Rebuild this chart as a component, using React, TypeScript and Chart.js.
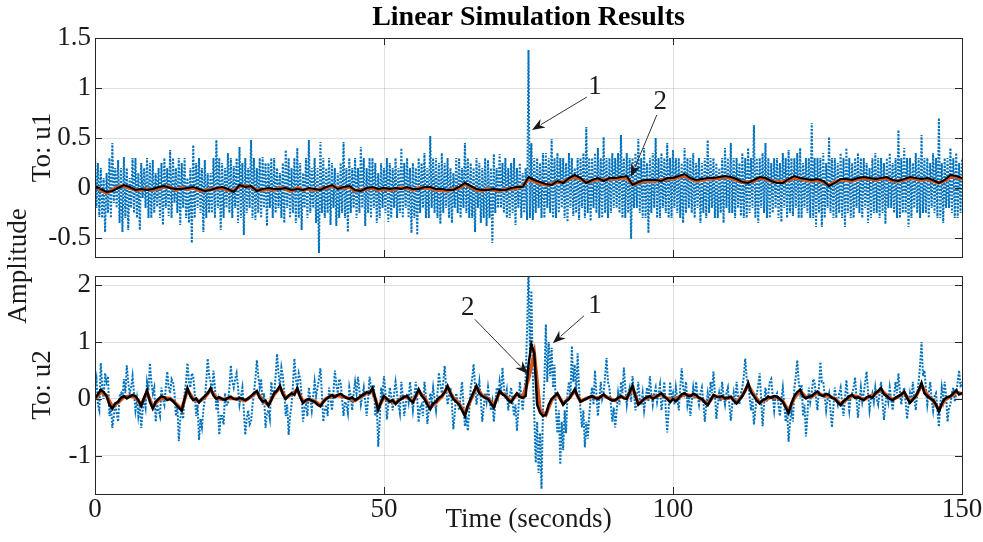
import React, { useEffect, useRef } from "react";
import { Chart, registerables } from "chart.js";

Chart.register(...registerables);

// ---------- text ----------
const TITLE = "Linear Simulation Results";
const X_LABEL = "Time (seconds)";
const Y_LABEL = "Amplitude";
const ROW_LABELS = ["To: u1", "To: u2"];

// ---------- ticks / ranges ----------
const X_TICKS = [0, 50, 100, 150];
const X_MIN = 0;
const X_MAX = 150;
const U1_TICKS = [-0.5, 0, 0.5, 1, 1.5];
const U1_RANGE = [-0.69, 1.5];
const U2_TICKS = [-1, 0, 1, 2];
const U2_RANGE = [-1.67, 2.16];

// sample spacing (seconds)
const BLUE_STEP = 0.25;
const LINE_STEP = 1;
const U2_BLACK_STEP = 0.5;

// ---------- output u1 ----------
const u1Blue = [
  0.33, -0.2, 0.25, -0.29, 0.2, -0.3, 0.1, -0.44, 0.15, -0.25, 0.3, -0.3, 0.45, -0.15, 0.2, -0.2, 0.28, -0.35, 0.2, -0.44,
  0.31, -0.3, 0.2, -0.42, 0.1, -0.2, 0.3, -0.25, 0.3, -0.3, 0.15, -0.42, 0.25, -0.1, 0.2, -0.2, 0.3, -0.3, 0.25, -0.3,
  0.28, -0.25, 0.15, -0.19, 0.2, -0.3, 0.25, -0.37, 0.3, -0.2, 0.2, -0.28, 0.38, -0.3, 0.3, -0.15, 0.2, -0.25, 0.3, -0.37,
  0.25, -0.2, 0.3, -0.3, 0.1, -0.35, 0.2, -0.55, 0.43, -0.3, 0.25, -0.2, 0.3, -0.25, 0.2, -0.44, 0.28, -0.3, 0.15, -0.25,
  0.15, -0.25, 0.3, -0.3, 0.48, -0.2, 0.3, -0.42, 0.25, -0.3, 0.2, -0.2, 0.35, -0.25, 0.3, -0.3, 0.22, -0.2, 0.3, -0.35,
  0.41, -0.3, 0.25, -0.47, 0.3, -0.25, 0.2, -0.2, 0.48, -0.3, 0.3, -0.32, 0.2, -0.25, 0.3, -0.3, 0.31, -0.2, 0.25, -0.38,
  0.25, -0.2, 0.3, -0.3, 0.3, -0.25, 0.2, -0.2, 0.15, -0.3, 0.25, -0.35, 0.38, -0.2, 0.3, -0.3, 0.2, -0.25, 0.3, -0.35,
  0.4, -0.3, 0.25, -0.42, 0.15, -0.2, 0.3, -0.3, 0.48, -0.25, 0.2, -0.2, 0.3, -0.35, 0.2, -0.65, 0.46, -0.25, 0.3, -0.3,
  0.2, -0.25, 0.3, -0.37, 0.25, -0.2, 0.2, -0.38, 0.15, -0.3, 0.25, -0.25, 0.46, -0.3, 0.2, -0.44, 0.3, -0.25, 0.2, -0.2,
  0.3, -0.3, 0.2, -0.25, 0.41, -0.2, 0.3, -0.38, 0.2, -0.25, 0.3, -0.3, 0.3, -0.2, 0.25, -0.35, 0.15, -0.3, 0.25, -0.2,
  0.2, -0.25, 0.3, -0.34, 0.25, -0.3, 0.2, -0.2, 0.3, -0.3, 0.2, -0.25, 0.4, -0.3, 0.25, -0.2, 0.3, -0.3, 0.2, -0.45,
  0.25, -0.3, 0.2, -0.47, 0.3, -0.25, 0.25, -0.2, 0.35, -0.3, 0.2, -0.3, 0.52, -0.2, 0.3, -0.25, 0.3, -0.3, 0.25, -0.36,
  0.35, -0.25, 0.25, -0.2, 0.3, -0.3, 0.2, -0.35, 0.15, -0.2, 0.3, -0.25, 0.3, -0.3, 0.2, -0.2, 0.45, -0.25, 0.3, -0.3,
  0.25, -0.3, 0.2, -0.44, 0.3, -0.2, 0.25, -0.35, 0.2, -0.3, 0.3, -0.38, 0.28, -0.3, 0.2, -0.55, 0.34, -0.25, 0.2, -0.2,
  0.34, -0.2, 0.25, -0.25, 0.3, -0.3, 0.2, -0.3, 0.25, -0.25, 0.3, -0.37, 0.2, -0.2, 0.25, -0.3, 0.15, -0.25, 0.2, -0.32,
  1.38, -0.3, 0.45, -0.32, 0.3, -0.25, 0.3, -0.2, 0.25, -0.3, 0.35, -0.3, 0.35, -0.2, 0.3, -0.25, 0.49, -0.3, 0.3, -0.3,
  0.35, -0.25, 0.3, -0.2, 0.3, -0.3, 0.25, -0.34, 0.35, -0.2, 0.3, -0.28, 0.2, -0.25, 0.3, -0.32, 0.3, -0.2, 0.35, -0.3,
  0.61, -0.25, 0.3, -0.33, 0.3, -0.2, 0.35, -0.25, 0.4, -0.3, 0.3, -0.3, 0.51, -0.25, 0.3, -0.3, 0.3, -0.25, 0.35, -0.2,
  0.3, -0.2, 0.35, -0.25, 0.53, -0.3, 0.3, -0.3, 0.35, -0.25, 0.3, -0.51, 0.3, -0.2, 0.35, -0.2, 0.49, -0.25, 0.3, -0.3,
  0.4, -0.3, 0.25, -0.45, 0.3, -0.25, 0.35, -0.2, 0.5, -0.3, 0.3, -0.3, 0.35, -0.2, 0.3, -0.25, 0.45, -0.3, 0.3, -0.3,
  0.38, -0.2, 0.3, -0.25, 0.3, -0.3, 0.25, -0.35, 0.4, -0.25, 0.3, -0.2, 0.3, -0.25, 0.35, -0.3, 0.25, -0.2, 0.3, -0.35,
  0.25, -0.25, 0.3, -0.3, 0.48, -0.25, 0.3, -0.2, 0.3, -0.3, 0.25, -0.3, 0.2, -0.25, 0.3, -0.35, 0.4, -0.2, 0.3, -0.25,
  0.45, -0.25, 0.3, -0.3, 0.3, -0.2, 0.25, -0.28, 0.35, -0.3, 0.3, -0.3, 0.4, -0.25, 0.3, -0.2, 0.63, -0.3, 0.3, -0.35,
  0.3, -0.2, 0.35, -0.25, 0.45, -0.3, 0.3, -0.3, 0.25, -0.25, 0.3, -0.2, 0.3, -0.3, 0.25, -0.34, 0.35, -0.2, 0.3, -0.3,
  0.38, -0.25, 0.3, -0.28, 0.3, -0.2, 0.35, -0.3, 0.4, -0.3, 0.25, -0.2, 0.3, -0.25, 0.3, -0.3, 0.65, -0.3, 0.3, -0.39,
  0.3, -0.25, 0.3, -0.39, 0.35, -0.3, 0.25, -0.2, 0.51, -0.25, 0.3, -0.3, 0.3, -0.3, 0.25, -0.25, 0.35, -0.3, 0.3, -0.39,
  0.4, -0.25, 0.3, -0.3, 0.25, -0.3, 0.3, -0.2, 0.35, -0.25, 0.3, -0.3, 0.3, -0.2, 0.25, -0.35, 0.2, -0.3, 0.3, -0.25,
  0.35, -0.25, 0.3, -0.3, 0.3, -0.25, 0.25, -0.36, 0.3, -0.2, 0.35, -0.2, 0.25, -0.25, 0.3, -0.3, 0.58, -0.3, 0.3, -0.25,
  0.4, -0.25, 0.3, -0.39, 0.3, -0.3, 0.25, -0.2, 0.35, -0.25, 0.3, -0.3, 0.53, -0.25, 0.3, -0.25, 0.3, -0.3, 0.25, -0.2,
  0.35, -0.25, 0.3, -0.3, 0.7, -0.3, 0.25, -0.35, 0.3, -0.2, 0.3, -0.2, 0.4, -0.25, 0.3, -0.3, 0.35, -0.3, 0.25, -0.25,
  0.3,
];

const u1Orange = [
  0.01, -0.02, -0.05, -0.02, 0.01, 0.02, 0.0, -0.02, -0.02, -0.01,
  -0.02, 0.0, 0.01, 0.01, -0.02, 0.0, -0.01, 0.0, -0.02, -0.03,
  -0.01, -0.01, 0.0, -0.02, -0.03, 0.02, 0.02, 0.01, -0.02, -0.02,
  -0.01, -0.02, 0.0, -0.01, -0.03, 0.0, -0.02, -0.01, -0.02, -0.01,
  0.0, 0.02, 0.0, 0.0, 0.01, -0.03, -0.02, -0.01, 0.0, -0.02,
  -0.01, -0.02, -0.01, 0.0, 0.0, -0.02, 0.0, 0.0, 0.0, -0.02,
  -0.02, -0.03, -0.01, 0.0, 0.04, 0.01, -0.02, -0.03, -0.01, -0.02,
  -0.03, -0.01, -0.01, 0.0, 0.02, 0.09, 0.07, 0.05, 0.03, 0.04,
  0.06, 0.06, 0.09, 0.11, 0.09, 0.06, 0.07, 0.09, 0.08, 0.09,
  0.09, 0.1, 0.1, 0.04, 0.05, 0.07, 0.07, 0.07, 0.08, 0.09,
  0.09, 0.11, 0.12, 0.09, 0.07, 0.08, 0.09, 0.09, 0.1, 0.11,
  0.1, 0.08, 0.06, 0.06, 0.07, 0.1, 0.09, 0.07, 0.06, 0.06,
  0.08, 0.1, 0.09, 0.08, 0.07, 0.08, 0.06, 0.03, 0.06, 0.08,
  0.08, 0.07, 0.09, 0.1, 0.09, 0.08, 0.09, 0.1, 0.07, 0.07,
  0.08, 0.1, 0.09, 0.08, 0.09, 0.07, 0.05, 0.07, 0.11, 0.11,
  0.09,
];

const u1Black = [
  0.02, -0.01, -0.04, -0.03, 0.0, 0.03, 0.01, -0.02, -0.01, -0.02,
  -0.01, 0.01, 0.02, 0.0, -0.01, -0.01, 0.0, 0.01, -0.01, -0.03,
  -0.02, 0.0, 0.01, -0.01, -0.04, 0.03, 0.01, 0.02, -0.03, -0.01,
  0.0, -0.01, -0.01, 0.0, -0.02, -0.01, -0.02, 0.0, -0.01, -0.02,
  0.01, 0.03, -0.01, 0.01, 0.02, -0.02, -0.03, 0.0, 0.01, -0.01,
  0.0, -0.01, 0.0, -0.01, 0.01, -0.01, -0.01, 0.01, 0.01, -0.01,
  -0.01, -0.02, -0.02, 0.01, 0.05, 0.02, -0.01, -0.02, -0.02, -0.01,
  -0.02, -0.02, 0.0, 0.01, 0.01, 0.11, 0.08, 0.06, 0.04, 0.03,
  0.07, 0.05, 0.1, 0.13, 0.1, 0.05, 0.08, 0.1, 0.07, 0.1,
  0.1, 0.11, 0.12, 0.03, 0.06, 0.08, 0.08, 0.08, 0.07, 0.1,
  0.1, 0.12, 0.14, 0.1, 0.08, 0.09, 0.1, 0.1, 0.11, 0.12,
  0.11, 0.09, 0.06, 0.05, 0.08, 0.11, 0.1, 0.07, 0.05, 0.05,
  0.09, 0.12, 0.1, 0.09, 0.08, 0.09, 0.07, 0.02, 0.05, 0.09,
  0.09, 0.08, 0.1, 0.11, 0.1, 0.09, 0.1, 0.11, 0.08, 0.07,
  0.09, 0.11, 0.1, 0.09, 0.1, 0.08, 0.05, 0.08, 0.13, 0.12,
  0.1,
];

// ---------- output u2 ----------
const u2Blue = [
  0.2, 0.35, -0.1, -0.2, 0.63, 0.2, 0.0, 0.45, 0.3, 0.4, -0.3, -0.1, -0.51, -0.3, -0.1, -0.25, -0.4, 0.05, 0.1, 0.0,
  0.35, 0.1, 0.59, 0.3, 0.1, 0.2, 0.4, 0.1, -0.2, 0.0, -0.3, -0.1, -0.51, -0.2, 0.0, -0.15, 0.3, 0.15, 0.63, 0.3,
  0.1, 0.2, -0.4, -0.1, -0.2, -0.3, 0.2, 0.0, -0.1, 0.2, 0.48, 0.2, 0.1, 0.35, 0.3, 0.1, -0.3, -0.1, -0.74, -0.35,
  -0.2, -0.35, 0.1, 0.3, 0.63, 0.3, 0.2, 0.45, 0.4, 0.1, -0.3, -0.1, -0.72, -0.35, -0.5, -0.2, 0.0, 0.3, 0.71, 0.4,
  0.3, 0.1, 0.5, 0.2, -0.2, -0.05, -0.63, -0.3, -0.3, -0.45, 0.1, -0.1, -0.1, 0.2, 0.59, 0.3, 0.2, 0.35, 0.45, 0.2,
  -0.1, 0.05, 0.2, -0.2, -0.63, -0.35, -0.2, -0.45, -0.4, -0.1, 0.1, 0.35, 0.68, 0.4, 0.2, 0.35, -0.1, 0.1, -0.51, -0.25,
  -0.2, -0.35, 0.3, 0.05, 0.1, 0.4, 0.79, 0.45, 0.2, 0.55, 0.4, 0.1, -0.3, -0.1, -0.63, -0.3, -0.1, 0.25, 0.71, 0.35,
  0.2, 0.45, 0.35, 0.05, -0.4, -0.15, -0.1, -0.3, 0.2, 0.0, -0.2, 0.05, 0.3, 0.05, 0.2, 0.35, 0.54, 0.1, -0.4, -0.2,
  -0.1, -0.3, 0.2, 0.0, -0.2, 0.1, 0.5, 0.25, 0.1, 0.35, 0.3, 0.0, -0.3, -0.05, -0.1, -0.25, 0.2, 0.05, -0.2, 0.1,
  0.3, 0.1, 0.39, 0.15, -0.1, 0.05, 0.2, -0.05, -0.3, 0.0, 0.39, 0.2, 0.1, 0.25, -0.3, -0.1, -0.84, -0.4, 0.2, 0.05,
  0.4, 0.1, -0.36, -0.1, 0.2, 0.05, -0.2, 0.1, 0.3, 0.1, -0.1, -0.25, 0.3, 0.05, -0.3, -0.1, 0.1, -0.05, 0.3, 0.05,
  -0.2, 0.05, 0.3, 0.0, -0.41, -0.15, -0.1, -0.3, 0.3, 0.05, -0.44, -0.2, 0.1, -0.05, 0.2, 0.0, -0.2, 0.1, 0.46, 0.25,
  0.1, 0.3, 0.58, 0.2, -0.1, 0.05, 0.2, -0.1, -0.53, -0.25, 0.1, -0.05, -0.2, 0.05, 0.3, -0.1, -0.48, -0.3, -0.56, -0.2,
  0.2, 0.35, 0.61, 0.25, -0.1, 0.1, 0.3, 0.0, -0.4, -0.15, 0.1, -0.05, 0.2, 0.0, -0.2, -0.05, -0.4, -0.1, 0.2, 0.05,
  0.3, 0.1, 0.55, 0.2, 0.0, 0.15, -0.2, 0.05, 0.2, -0.05, -0.3, -0.1, -0.56, -0.2, 0.3, 0.05, -0.2, 0.1, 0.35, 1.2,
  2.3, 0.8, 1.9, 0.4, -0.3, -1.12, -0.4, -1.3, -0.6, -1.58, -0.2, 0.3, 1.31, 0.3, 1.0, 0.4, 0.9, 0.2, 0.6, -0.2,
  -0.6, -0.2, -1.15, -0.4, -0.9, -0.2, -0.6, 0.1, 0.3, 0.0, 0.93, 0.3, 0.6, 0.1, 0.8, 0.2, -0.2, -0.5, -0.2, -0.85,
  -0.4, -0.7, -0.3, 0.0, 0.2, -0.1, 0.5, 0.1, -0.3, 0.0, 0.3, 0.0, 0.1, 0.4, 0.72, 0.3, 0.2, -0.1, -0.4, -0.15,
  -0.5, -0.2, 0.1, -0.1, 0.3, 0.1, 0.55, 0.2, -0.1, 0.1, 0.2, -0.05, 0.4, 0.1, -0.2, 0.05, 0.3, 0.0, -0.1, 0.1,
  -0.2, 0.0, 0.2, -0.05, 0.4, 0.1, -0.1, 0.1, 0.2, -0.05, 0.1, 0.25, -0.2, 0.0, 0.3, -0.2, -0.59, -0.2, 0.3, 0.0,
  0.1, -0.1, 0.2, 0.0, -0.2, 0.2, 0.54, 0.2, 0.1, 0.3, -0.1, 0.05, -0.3, -0.05, 0.2, 0.0, 0.3, 0.05, -0.1, 0.1,
  0.2, -0.05, -0.4, -0.1, 0.1, -0.1, 0.3, 0.1, 0.48, 0.1, -0.35, -0.1, 0.1, -0.05, 0.3, 0.05, -0.1, 0.1, 0.2, -0.1,
  -0.38, -0.1, 0.1, -0.1, 0.3, 0.05, -0.1, 0.1, 0.2, 0.4, 0.71, 0.35, 0.3, 0.05, -0.2, 0.0, -0.45, -0.2, 0.1, 0.25,
  0.45, 0.0, -0.48, -0.1, 0.2, -0.05, 0.1, 0.3, 0.35, 0.05, -0.2, 0.05, 0.1, -0.1, -0.3, 0.0, 0.2, -0.1, -0.4, -0.2,
  -0.75, -0.4, -0.2, -0.4, 0.2, 0.4, 0.68, 0.3, 0.1, 0.25, -0.3, -0.1, -0.66, -0.3, 0.2, -0.05, 0.1, 0.35, 0.3, 0.0,
  -0.2, 0.2, 0.65, 0.3, 0.3, 0.05, -0.2, 0.0, 0.1, -0.2, -0.5, -0.15, 0.2, 0.0, -0.1, 0.1, 0.2, -0.05, -0.3, 0.0,
  0.33, 0.05, -0.2, 0.05, 0.1, 0.2, 0.38, 0.0, -0.33, -0.05, 0.2, -0.05, 0.1, 0.3, 0.48, 0.1, -0.2, 0.0, 0.1, -0.05,
  0.2, 0.0, -0.1, 0.1, 0.3, -0.05, -0.37, -0.1, 0.1, -0.05, 0.2, 0.0, -0.2, 0.05, 0.3, 0.1, 0.45, 0.15, -0.1, 0.1,
  0.2, -0.05, -0.35, -0.1, 0.1, -0.05, 0.3, 0.0, -0.2, 0.1, 0.3, 0.6, 1.0, 0.4, 0.5, 0.2, -0.1, 0.1, 0.3, 0.0,
  -0.2, 0.05, 0.1, -0.2, -0.49, -0.1, 0.2, 0.0, 0.3, 0.05, -0.4, -0.15, -0.1, 0.1, 0.2, -0.05, 0.1, 0.3, 0.5, 0.2,
  0.3,
];

const u2Orange = [
  0.0, 0.12, 0.06, -0.14, -0.06, 0.03, 0.05, 0.03, -0.1, 0.12,
  -0.14, -0.02, 0.02, 0.01, -0.08, -0.18, 0.16, 0.0, -0.05, 0.03,
  0.16, 0.02, -0.01, 0.01, 0.01, 0.0, -0.03, 0.04, 0.12, -0.03,
  -0.1, 0.08, 0.2, 0.02, 0.08, 0.16, -0.05, -0.01, -0.04, -0.11,
  0.01, 0.05, 0.06, 0.04, 0.01, -0.03, 0.04, 0.1, 0.16, -0.16,
  0.03, -0.04, -0.07, 0.01, 0.04, -0.05, 0.14, 0.02, -0.15, -0.06,
  0.04, 0.2, 0.02, -0.08, -0.26, -0.02, 0.2, 0.06, 0.01, -0.12,
  0.12, 0.06, -0.04, 0.08, 0.03, 0.35, 0.8, -0.2, -0.28, -0.02,
  0.08, -0.08, 0.01, 0.14, -0.04, 0.01, 0.04, 0.01, 0.06, 0.01,
  -0.03, 0.04, 0.01, 0.2, -0.08, -0.01, 0.04, 0.04, 0.08, 0.01,
  -0.01, 0.03, 0.08, 0.06, 0.05, -0.01, -0.09, 0.05, 0.04, 0.0,
  0.03, -0.06, 0.06, 0.24, 0.07, -0.06, -0.01, 0.03, 0.03, -0.04,
  -0.21, 0.02, 0.14, 0.03, 0.04, 0.11, 0.06, 0.05, 0.01, -0.09,
  -0.01, 0.06, 0.04, -0.01, 0.04, 0.09, 0.16, 0.06, -0.01, 0.04,
  0.11, -0.05, 0.04, 0.24, 0.07, -0.03, -0.19, -0.02, 0.04, 0.12,
  0.09,
];

const u2Black = [
  0.01, 0.08, 0.16, 0.12, 0.05, -0.1, -0.17, -0.08, -0.05, 0.02, 0.05, 0.01, 0.04, 0.07, 0.05, -0.02, -0.12, 0.02, 0.15, -0.05,
  -0.17, -0.05, 0.0, 0.05, 0.03, -0.02, 0.0, -0.04, -0.1, -0.15, -0.21, 0.0, 0.19, 0.05, -0.02, 0.01, -0.06, 0.0, 0.05, 0.1,
  0.19, 0.06, 0.0, 0.03, 0.0, -0.02, 0.02, 0.04, 0.0, -0.01, 0.02, 0.0, -0.02, 0.01, 0.05, 0.1, 0.14, 0.02, -0.05, -0.03,
  -0.12, -0.02, 0.1, 0.15, 0.23, 0.08, 0.0, 0.06, 0.1, 0.07, 0.19, 0.03, -0.07, -0.02, 0.0, -0.03, -0.05, -0.1, -0.13, -0.05,
  0.0, 0.04, 0.07, 0.03, 0.07, 0.09, 0.05, 0.02, 0.0, 0.03, -0.02, 0.01, 0.05, 0.08, 0.12, 0.1, 0.19, 0.0, -0.19, -0.05,
  0.05, 0.0, -0.05, -0.02, -0.09, -0.03, 0.0, 0.04, 0.05, -0.02, -0.06, 0.05, 0.17, 0.06, 0.0, -0.1, -0.18, -0.08, -0.05, 0.02,
  0.05, 0.12, 0.23, 0.1, 0.0, -0.05, -0.1, -0.2, -0.3, -0.12, 0.0, 0.12, 0.23, 0.1, 0.05, 0.02, 0.0, -0.08, -0.15, 0.0,
  0.14, 0.08, 0.05, -0.02, -0.06, 0.03, 0.1, 0.04, 0.02, 0.05, 0.6, 0.96, 0.8, -0.1, -0.24, -0.3, -0.28, -0.1, 0.0, 0.05,
  0.1, 0.0, -0.1, -0.04, 0.0, 0.08, 0.17, 0.05, -0.05, -0.02, 0.0, 0.03, 0.05, 0.02, 0.0, 0.04, 0.08, 0.03, 0.0, -0.03,
  -0.02, 0.02, 0.05, 0.01, 0.0, 0.12, 0.23, 0.05, -0.1, -0.05, 0.0, 0.03, 0.05, 0.0, 0.03, 0.07, 0.1, 0.04, 0.0, -0.06,
  0.0, -0.04, 0.02, 0.08, 0.1, 0.06, 0.05, 0.09, 0.07, 0.02, 0.0, -0.06, -0.11, -0.02, 0.07, 0.04, 0.03, 0.05, 0.01, 0.02,
  0.04, -0.03, -0.08, -0.02, 0.05, 0.15, 0.28, 0.12, 0.05, -0.03, -0.08, -0.02, 0.0, 0.04, 0.02, 0.05, 0.04, 0.0, -0.05, -0.15,
  -0.25, -0.08, 0.05, 0.12, 0.16, 0.05, 0.01, 0.04, 0.05, 0.1, 0.13, 0.07, 0.05, 0.09, 0.07, 0.02, 0.0, -0.06, -0.11, -0.04,
  0.0, 0.05, 0.07, 0.02, 0.03, 0.0, -0.02, 0.03, 0.05, 0.02, 0.1, 0.14, 0.19, 0.08, 0.05, 0.0, -0.02, 0.02, 0.05, 0.08,
  0.13, 0.02, -0.07, -0.01, 0.05, 0.15, 0.28, 0.1, 0.05, 0.01, -0.02, -0.1, -0.22, -0.08, 0.0, 0.03, 0.05, 0.1, 0.15, 0.08,
  0.1,
];

// ---------- arrow annotations (data units: label at tx,ty; arrow from x0,y0 to x1,y1) ----------
type Note = { text: string; tx: number; ty: number; x0: number; y0: number; x1: number; y1: number };
const u1Notes: Note[] = [
  { text: "1", tx: 86.5, ty: 1.01, x0: 85.1, y0: 0.91, x1: 75.6, y1: 0.58 },
  { text: "2", tx: 97.8, ty: 0.86, x0: 97.2, y0: 0.73, x1: 92.7, y1: 0.11 },
];
const u2Notes: Note[] = [
  { text: "2", tx: 64.5, ty: 1.6, x0: 65.7, y0: 1.4, x1: 74.9, y1: 0.44 },
  { text: "1", tx: 86.5, ty: 1.63, x0: 84.6, y0: 1.46, x1: 79.2, y1: 0.98 },
];

// ---------- styling / layout ----------
const W = 983;
const H = 542;
const PLOT_LEFT = 95;
const PLOT_RIGHT = 962;
const TOP_Y0 = 38;
const TOP_Y1 = 257;
const BOT_Y0 = 276;
const BOT_Y1 = 494;
const SERIF = "'Liberation Serif', 'Times New Roman', Times, serif";
const INK = "#1a1a1a";
const FRAME = "#262626";
const GRID = "rgba(38,38,38,0.15)";
const BLUE = "#0072BD";
const ORANGE = "#D95319";
const BLACK = "#000000";
const FONT_SIZE = 27;

const toPoints = (arr: number[], step: number) => arr.map((y, i) => ({ x: i * step, y }));

const framePlugin = {
  id: "matlabFrame",
  afterDatasetsDraw(chart: any, _args: any, opts: any) {
    const { ctx, chartArea: a, scales } = chart;
    const xs = scales.x;
    const ys = scales.y;
    ctx.save();
    ctx.strokeStyle = FRAME;
    ctx.lineWidth = 1;
    const L = 7;
    ctx.beginPath();
    for (const t of xs.ticks) {
      const px = Math.round(xs.getPixelForValue(t.value)) + 0.5;
      ctx.moveTo(px, a.top);
      ctx.lineTo(px, a.top + L);
      ctx.moveTo(px, a.bottom);
      ctx.lineTo(px, a.bottom - L);
    }
    for (const t of ys.ticks) {
      const py = Math.round(ys.getPixelForValue(t.value)) + 0.5;
      ctx.moveTo(a.left, py);
      ctx.lineTo(a.left + L, py);
      ctx.moveTo(a.right, py);
      ctx.lineTo(a.right - L, py);
    }
    ctx.stroke();
    ctx.strokeRect(Math.round(a.left) + 0.5, Math.round(a.top) + 0.5, Math.round(a.right - a.left), Math.round(a.bottom - a.top));

    // arrows + labels
    const notes: Note[] = (opts && opts.notes) || [];
    for (const n of notes) {
      const x0 = xs.getPixelForValue(n.x0);
      const y0 = ys.getPixelForValue(n.y0);
      const x1 = xs.getPixelForValue(n.x1);
      const y1 = ys.getPixelForValue(n.y1);
      const ang = Math.atan2(y1 - y0, x1 - x0);
      const hl = 13;
      const hw = 5;
      const c = Math.cos(ang);
      const s = Math.sin(ang);
      ctx.strokeStyle = "#333333";
      ctx.fillStyle = "#1a1a1a";
      ctx.lineWidth = 1;
      ctx.beginPath();
      ctx.moveTo(x0, y0);
      ctx.lineTo(x1 - c * hl * 0.8, y1 - s * hl * 0.8);
      ctx.stroke();
      ctx.beginPath();
      ctx.moveTo(x1, y1);
      ctx.lineTo(x1 - c * hl - s * hw, y1 - s * hl + c * hw);
      ctx.lineTo(x1 - c * hl * 0.7, y1 - s * hl * 0.7);
      ctx.lineTo(x1 - c * hl + s * hw, y1 - s * hl - c * hw);
      ctx.closePath();
      ctx.fill();
      ctx.font = `${FONT_SIZE}px ${SERIF}`;
      ctx.fillStyle = INK;
      ctx.textAlign = "center";
      ctx.textBaseline = "middle";
      ctx.fillText(n.text, xs.getPixelForValue(n.tx), ys.getPixelForValue(n.ty));
    }

    // shared y label
    if (opts && opts.sideLabel) {
      ctx.save();
      ctx.translate(19, (TOP_Y0 + a.bottom) / 2);
      ctx.rotate(-Math.PI / 2);
      ctx.font = `${FONT_SIZE}px ${SERIF}`;
      ctx.fillStyle = INK;
      ctx.textAlign = "center";
      ctx.textBaseline = "middle";
      ctx.fillText(opts.sideLabel, 0, 0);
      ctx.restore();
    }
    ctx.restore();
  },
};

function buildConfig(isTop: boolean): any {
  const blue = isTop ? u1Blue : u2Blue;
  const orange = isTop ? u1Orange : u2Orange;
  const black = isTop ? u1Black : u2Black;
  const blackStep = isTop ? LINE_STEP : U2_BLACK_STEP;
  const yTicks = isTop ? U1_TICKS : U2_TICKS;
  const yRange = isTop ? U1_RANGE : U2_RANGE;
  const titleLine = 28 * 1.2;
  return {
    type: "line",
    data: {
      datasets: [
        { label: "black", data: toPoints(black, blackStep), borderColor: BLACK, borderWidth: isTop ? 2 : 2.5, pointRadius: 0, tension: 0, order: 0 },
        { label: "orange", data: toPoints(orange, LINE_STEP), borderColor: ORANGE, borderWidth: 3.5, pointRadius: 0, tension: 0, order: 1 },
        { label: "blue", data: toPoints(blue, BLUE_STEP), borderColor: BLUE, borderWidth: 2, borderDash: [2, 1.5], pointRadius: 0, tension: 0, order: 2 },
      ],
    },
    options: {
      responsive: false,
      animation: false,
      devicePixelRatio: 1,
      events: [],
      layout: { padding: { left: 0, right: W - PLOT_RIGHT, top: isTop ? 0 : BOT_Y0, bottom: 0 } },
      plugins: {
        legend: { display: false },
        tooltip: { enabled: false },
        title: isTop
          ? {
              display: true,
              text: TITLE,
              fullSize: false,
              color: "#000",
              font: { family: SERIF, size: 28, weight: "bold", lineHeight: 1.2 },
              padding: { top: 1, bottom: TOP_Y0 - 1 - titleLine },
            }
          : { display: false },
        matlabFrame: { notes: isTop ? u1Notes : u2Notes, sideLabel: isTop ? null : Y_LABEL },
      },
      scales: {
        x: {
          type: "linear",
          min: X_MIN,
          max: X_MAX,
          afterBuildTicks: (s: any) => {
            s.ticks = X_TICKS.map((value) => ({ value }));
          },
          afterFit: (s: any) => {
            s.height = isTop ? H - TOP_Y1 : H - BOT_Y1;
          },
          grid: { color: GRID, drawTicks: false, lineWidth: 1 },
          border: { display: false },
          ticks: {
            display: !isTop,
            padding: 0,
            autoSkip: false,
            maxRotation: 0,
            color: INK,
            font: { family: SERIF, size: FONT_SIZE },
            callback: (v: any) => String(v),
          },
          title: {
            display: !isTop,
            text: X_LABEL,
            color: INK,
            font: { family: SERIF, size: FONT_SIZE },
            padding: { top: 0, bottom: 6 },
          },
        },
        y: {
          type: "linear",
          min: yRange[0],
          max: yRange[1],
          afterBuildTicks: (s: any) => {
            s.ticks = yTicks.map((value) => ({ value }));
          },
          afterFit: (s: any) => {
            s.width = PLOT_LEFT;
          },
          grid: { color: GRID, drawTicks: false, lineWidth: 1 },
          border: { display: false },
          ticks: {
            padding: 4,
            color: INK,
            font: { family: SERIF, size: FONT_SIZE },
            callback: (v: any) => String(v),
          },
          title: {
            display: true,
            text: isTop ? ROW_LABELS[0] : ROW_LABELS[1],
            color: INK,
            font: { family: SERIF, size: FONT_SIZE },
            padding: { top: 27, bottom: 0 },
          },
        },
      },
    },
    plugins: [framePlugin],
  };
}

export default function App() {
  const topRef = useRef<HTMLCanvasElement>(null);
  const botRef = useRef<HTMLCanvasElement>(null);
  useEffect(() => {
    const c1 = new Chart(topRef.current as HTMLCanvasElement, buildConfig(true));
    const c2 = new Chart(botRef.current as HTMLCanvasElement, buildConfig(false));
    return () => {
      c1.destroy();
      c2.destroy();
    };
  }, []);
  return (
    <div style={{ position: "fixed", left: 0, top: 0, width: W, height: H, background: "#fff" }}>
      <canvas ref={topRef} width={W} height={H} style={{ position: "absolute", left: 0, top: 0 }} />
      <canvas ref={botRef} width={W} height={H} style={{ position: "absolute", left: 0, top: 0 }} />
    </div>
  );
}
